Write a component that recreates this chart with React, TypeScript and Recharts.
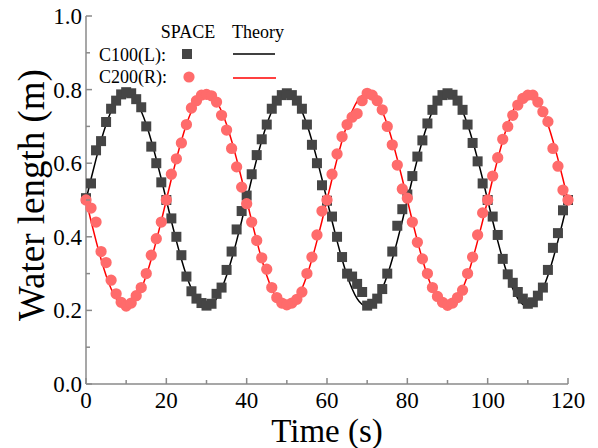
import { ComposedChart, Line, Scatter, XAxis, YAxis, ZAxis } from 'recharts'

// sampling times (s)
const time = [
  0, 1.25, 2.5, 3.75, 5, 6.25, 7.5, 8.75, 10, 11.25, 12.5, 13.75, 15, 16.25, 17.5, 18.75,
  20, 21.25, 22.5, 23.75, 25, 26.25, 27.5, 28.75, 30, 31.25, 32.5, 33.75, 35, 36.25, 37.5, 38.75,
  40, 41.25, 42.5, 43.75, 45, 46.25, 47.5, 48.75, 50, 51.25, 52.5, 53.75, 55, 56.25, 57.5, 58.75,
  60, 61.25, 62.5, 63.75, 65, 66.25, 67.5, 68.75, 70, 71.25, 72.5, 73.75, 75, 76.25, 77.5, 78.75,
  80, 81.25, 82.5, 83.75, 85, 86.25, 87.5, 88.75, 90, 91.25, 92.5, 93.75, 95, 96.25, 97.5, 98.75,
  100, 101.25, 102.5, 103.75, 105, 106.25, 107.5, 108.75, 110, 111.25, 112.5, 113.75, 115, 116.25, 117.5, 118.75,
  120,
]

// SPACE results
const c100Space = [
  0.505, 0.545, 0.635, 0.66, 0.712, 0.748, 0.77, 0.787, 0.793, 0.79, 0.774, 0.752, 0.7, 0.645, 0.6, 0.548,
  0.5, 0.45, 0.4, 0.35, 0.292, 0.252, 0.232, 0.22, 0.213, 0.218, 0.245, 0.262, 0.31, 0.36, 0.42, 0.47,
  0.512, 0.57, 0.622, 0.665, 0.705, 0.748, 0.77, 0.785, 0.79, 0.785, 0.77, 0.748, 0.705, 0.65, 0.6, 0.54,
  0.498, 0.455, 0.4, 0.345, 0.3, 0.292, 0.272, 0.25, 0.213, 0.218, 0.232, 0.258, 0.3, 0.36, 0.43, 0.475,
  0.515, 0.565, 0.618, 0.662, 0.708, 0.745, 0.77, 0.785, 0.79, 0.786, 0.77, 0.745, 0.705, 0.655, 0.605, 0.545,
  0.5, 0.455, 0.405, 0.34, 0.298, 0.275, 0.25, 0.232, 0.218, 0.222, 0.24, 0.262, 0.31, 0.37, 0.41, 0.472,
  0.5,
]

const c200Space = [
  0.5, 0.478, 0.44, 0.36, 0.33, 0.282, 0.245, 0.222, 0.212, 0.22, 0.24, 0.262, 0.3, 0.35, 0.395, 0.44,
  0.5, 0.57, 0.612, 0.655, 0.705, 0.75, 0.77, 0.785, 0.787, 0.783, 0.766, 0.73, 0.69, 0.64, 0.59, 0.535,
  0.49, 0.44, 0.39, 0.343, 0.312, 0.262, 0.235, 0.22, 0.215, 0.22, 0.23, 0.25, 0.3, 0.345, 0.405, 0.47,
  0.5, 0.57, 0.625, 0.672, 0.705, 0.725, 0.735, 0.77, 0.79, 0.785, 0.77, 0.745, 0.7, 0.65, 0.595, 0.53,
  0.505, 0.44, 0.385, 0.34, 0.3, 0.262, 0.238, 0.222, 0.214, 0.22, 0.235, 0.255, 0.3, 0.345, 0.405, 0.465,
  0.5, 0.565, 0.615, 0.665, 0.7, 0.73, 0.758, 0.776, 0.785, 0.785, 0.766, 0.74, 0.713, 0.64, 0.592, 0.527,
  0.5,
]

// theory curves
const c100Theory = [
  0.5, 0.557, 0.611, 0.661, 0.705, 0.741, 0.768, 0.784, 0.79, 0.784, 0.768, 0.741, 0.705, 0.661, 0.611, 0.557,
  0.5, 0.443, 0.389, 0.339, 0.295, 0.259, 0.232, 0.216, 0.21, 0.216, 0.232, 0.259, 0.295, 0.339, 0.389, 0.443,
  0.5, 0.557, 0.611, 0.661, 0.705, 0.741, 0.768, 0.784, 0.79, 0.784, 0.768, 0.741, 0.705, 0.661, 0.611, 0.557,
  0.5, 0.443, 0.389, 0.339, 0.295, 0.259, 0.232, 0.216, 0.21, 0.216, 0.232, 0.259, 0.295, 0.339, 0.389, 0.443,
  0.5, 0.557, 0.611, 0.661, 0.705, 0.741, 0.768, 0.784, 0.79, 0.784, 0.768, 0.741, 0.705, 0.661, 0.611, 0.557,
  0.5, 0.443, 0.389, 0.339, 0.295, 0.259, 0.232, 0.216, 0.21, 0.216, 0.232, 0.259, 0.295, 0.339, 0.389, 0.443,
  0.5,
]

const c200Theory = [
  0.5, 0.443, 0.389, 0.339, 0.295, 0.259, 0.232, 0.216, 0.21, 0.216, 0.232, 0.259, 0.295, 0.339, 0.389, 0.443,
  0.5, 0.557, 0.611, 0.661, 0.705, 0.741, 0.768, 0.784, 0.79, 0.784, 0.768, 0.741, 0.705, 0.661, 0.611, 0.557,
  0.5, 0.443, 0.389, 0.339, 0.295, 0.259, 0.232, 0.216, 0.21, 0.216, 0.232, 0.259, 0.295, 0.339, 0.389, 0.443,
  0.5, 0.557, 0.611, 0.661, 0.705, 0.741, 0.768, 0.784, 0.79, 0.784, 0.768, 0.741, 0.705, 0.661, 0.611, 0.557,
  0.5, 0.443, 0.389, 0.339, 0.295, 0.259, 0.232, 0.216, 0.21, 0.216, 0.232, 0.259, 0.295, 0.339, 0.389, 0.443,
  0.5, 0.557, 0.611, 0.661, 0.705, 0.741, 0.768, 0.784, 0.79, 0.784, 0.768, 0.741, 0.705, 0.661, 0.611, 0.557,
  0.5,
]

const xTicks = [0, 10, 20, 30, 40, 50, 60, 70, 80, 90, 100, 110, 120]
const yTicks = [0, 0.1, 0.2, 0.3, 0.4, 0.5, 0.6, 0.7, 0.8, 0.9, 1.0]

const FONT = '"Liberation Serif", "Times New Roman", serif'
const AXIS = '#8a8a8a'
const SQUARE = '#454545'
const CIRCLE = '#ff6b6b'

const pts = (ys: number[]) => time.map((t, i) => ({ t, v: ys[i] }))

const isMajorX = (v: number) => v % 20 === 0
const isMajorY = (v: number) => Math.round(v * 10) % 2 === 0

const BottomTick = ({ x, y, payload }: any) => {
  const major = isMajorX(payload.value)
  return (
    <g>
      <line x1={x} y1={y} x2={x} y2={y - (major ? 6 : 4)} stroke={AXIS} strokeWidth={1.5} />
      {major && (
        <text x={x} y={y + 16} dy="0.35em" textAnchor="middle" fontSize={23} fontFamily={FONT} fill="#000">
          {payload.value}
        </text>
      )}
    </g>
  )
}

const TopTick = ({ x, y, payload }: any) => (
  <line x1={x} y1={y} x2={x} y2={y + (isMajorX(payload.value) ? 6 : 4)} stroke={AXIS} strokeWidth={1.5} />
)

const LeftTick = ({ x, y, payload }: any) => {
  const major = isMajorY(payload.value)
  return (
    <g>
      <line x1={x} y1={y} x2={x + (major ? 6 : 4)} y2={y} stroke={AXIS} strokeWidth={1.5} />
      {major && (
        <text x={x - 4} y={y} dy="0.35em" textAnchor="end" fontSize={23} fontFamily={FONT} fill="#000">
          {payload.value.toFixed(1)}
        </text>
      )}
    </g>
  )
}

const RightTick = ({ x, y, payload }: any) => (
  <line x1={x} y1={y} x2={x - (isMajorY(payload.value) ? 6 : 4)} y2={y} stroke={AXIS} strokeWidth={1.5} />
)

const YTitle = ({ viewBox }: any) => {
  const cx = 31
  const cy = viewBox ? viewBox.y + viewBox.height / 2 - 5 : 195
  return (
    <text
      x={cx}
      y={cy}
      transform={`rotate(-90, ${cx}, ${cy})`}
      textAnchor="middle"
      dy="0.35em"
      fontSize={37}
      fontFamily={FONT}
      fill="#000"
    >
      Water length (m)
    </text>
  )
}

export default function App() {
  const axisLine = { stroke: AXIS, strokeWidth: 1.5 }

  return (
    <div style={{ position: 'absolute', left: 0, top: 0, width: 598, height: 448, background: '#fff' }}>
      <ComposedChart width={598} height={448} margin={{ top: 16, right: 30, bottom: 0, left: 0 }} style={{ fontFamily: FONT }}>
        <XAxis
          dataKey="t"
          type="number"
          domain={[0, 120]}
          ticks={xTicks}
          interval={0}
          height={64}
          tickSize={0}
          tickMargin={0}
          tick={<BottomTick />}
          axisLine={axisLine}
          label={{ value: 'Time (s)', position: 'insideBottom', offset: 6, style: { fontSize: 33, fontFamily: FONT, fill: '#000' } }}
        />
        <XAxis
          xAxisId="top"
          orientation="top"
          type="number"
          domain={[0, 120]}
          ticks={xTicks}
          interval={0}
          height={0}
          tickSize={0}
          tickMargin={0}
          tick={<TopTick />}
          axisLine={axisLine}
        />
        <YAxis
          dataKey="v"
          type="number"
          domain={[0, 1]}
          ticks={yTicks}
          interval={0}
          width={86}
          tickSize={0}
          tickMargin={0}
          tick={<LeftTick />}
          axisLine={axisLine}
          label={<YTitle />}
        />
        <YAxis
          yAxisId="right"
          orientation="right"
          type="number"
          domain={[0, 1]}
          ticks={yTicks}
          interval={0}
          width={0}
          tickSize={0}
          tickMargin={0}
          tick={<RightTick />}
          axisLine={axisLine}
        />
        <ZAxis range={[100, 100]} />
        <Scatter name="C100(L) SPACE" data={pts(c100Space)} dataKey="v" fill={SQUARE} shape="square" isAnimationActive={false} />
        <Scatter name="C200(R) SPACE" data={pts(c200Space)} dataKey="v" fill={CIRCLE} shape="circle" isAnimationActive={false} />
        <Line name="C100(L) Theory" data={pts(c100Theory)} dataKey="v" type="natural" stroke="#000" strokeWidth={1.5} dot={false} activeDot={false} isAnimationActive={false} />
        <Line name="C200(R) Theory" data={pts(c200Theory)} dataKey="v" type="natural" stroke="#ff0000" strokeWidth={1.5} dot={false} activeDot={false} isAnimationActive={false} />
      </ComposedChart>

      {/* legend */}
      <svg width={598} height={100} style={{ position: 'absolute', left: 0, top: 0, pointerEvents: 'none' }}>
        <g fontFamily={FONT} fontSize={18} fill="#000">
          <text x={188} y={32} dy="0.35em" textAnchor="middle">SPACE</text>
          <text x={258} y={32} dy="0.35em" textAnchor="middle">Theory</text>
          <text x={99} y={55} dy="0.35em">C100(L):</text>
          <text x={99} y={77} dy="0.35em">C200(R):</text>
        </g>
        <rect x={182} y={49} width={10} height={10} fill={SQUARE} />
        <line x1={233} y1={54} x2={275} y2={54} stroke="#000" strokeWidth={1.5} />
        <circle cx={189} cy={77} r={5.6} fill={CIRCLE} />
        <line x1={233} y1={78} x2={276} y2={78} stroke="#ff0000" strokeWidth={1.5} />
      </svg>
    </div>
  )
}
